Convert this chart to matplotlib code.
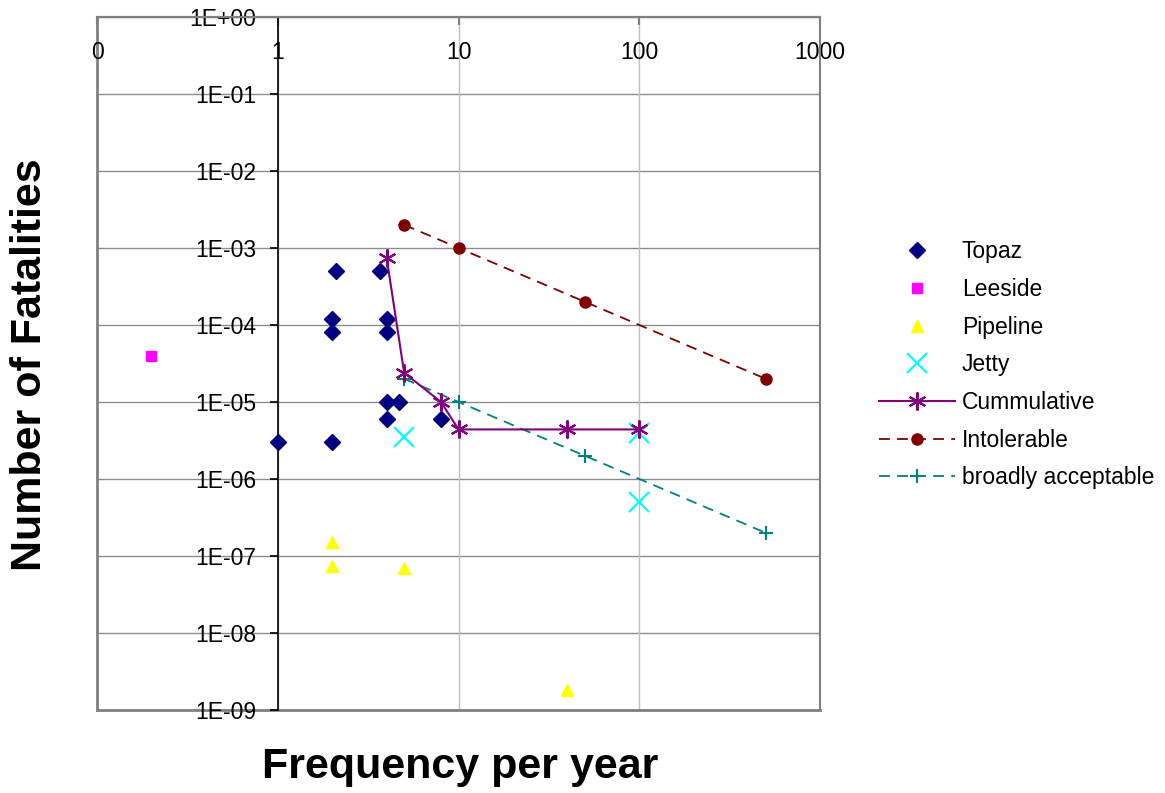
import matplotlib
matplotlib.use("Agg")
import matplotlib.pyplot as plt
from matplotlib.ticker import FixedLocator, FixedFormatter, NullLocator

plt.rcParams['font.family'] = ['Liberation Sans', 'DejaVu Sans']

# ---- data ----
topaz_x = [1, 2, 2.1, 2, 2, 3.7, 4, 4, 4, 4.7, 4, 8]
topaz_y = [3e-6, 3e-6, 5e-4, 1.2e-4, 8e-5, 5e-4, 1.2e-4, 8e-5, 1e-5, 1e-5, 6e-6, 6e-6]

leeside_x = [0.2]
leeside_y = [4e-5]

pipeline_x = [2, 2, 5, 40]
pipeline_y = [1.5e-7, 7.5e-8, 7e-8, 1.8e-9]

jetty_x = [5, 100, 100]
jetty_y = [3.5e-6, 4e-6, 5e-7]

cum_x = [4, 5, 8, 10, 40, 100]
cum_y = [7.5e-4, 2.4e-5, 1e-5, 4.4e-6, 4.4e-6, 4.4e-6]

intol_x = [5, 10, 50, 500]
intol_y = [2e-3, 1e-3, 2e-4, 2e-5]

broad_x = [5, 10, 50, 500]
broad_y = [2e-5, 1e-5, 2e-6, 2e-7]

x_ticks = [0.1, 1, 10, 100, 1000]
x_tick_labels = ["0", "1", "10", "100", "1000"]
y_ticks = [1e0, 1e-1, 1e-2, 1e-3, 1e-4, 1e-5, 1e-6, 1e-7, 1e-8, 1e-9]
y_tick_labels = ["1E+00", "1E-01", "1E-02", "1E-03", "1E-04", "1E-05",
                 "1E-06", "1E-07", "1E-08", "1E-09"]

# ---- figure ----
fig = plt.figure(figsize=(11.65, 7.93), dpi=100)
ax = fig.add_axes([0.0833, 0.1047, 0.6206, 0.8739])
ax.set_xscale('log')
ax.set_yscale('log')
ax.set_xlim(0.1, 1000)
ax.set_ylim(1e-9, 1)

# grid
for yv in y_ticks:
    ax.axhline(yv, color='#8c8c8c', lw=1.0, zorder=0)
for xv in x_ticks:
    ax.axvline(xv, color='#c0c0c0', lw=1.0, zorder=0)

# frame
for s in ['top', 'right']:
    ax.spines[s].set_color('#808080')
    ax.spines[s].set_linewidth(1.5)
ax.axvline(x_ticks[0], color='#808080', lw=2.0, clip_on=False, zorder=1)
ax.axhline(y_ticks[-1], color='#808080', lw=2.0, clip_on=False, zorder=1)

# axes crossing positions
ax.spines['left'].set_position(('data', 1))
ax.spines['left'].set_color('black')
ax.spines['left'].set_linewidth(1.2)
ax.spines['bottom'].set_position(('data', 1))
ax.spines['bottom'].set_color('#808080')
ax.spines['bottom'].set_linewidth(1.5)

ax.xaxis.set_major_locator(FixedLocator(x_ticks))
ax.xaxis.set_major_formatter(FixedFormatter(x_tick_labels))
ax.xaxis.set_minor_locator(NullLocator())
ax.yaxis.set_major_locator(FixedLocator(y_ticks))
ax.yaxis.set_major_formatter(FixedFormatter(y_tick_labels))
ax.yaxis.set_minor_locator(NullLocator())
ax.tick_params(axis='x', direction='out', length=6, color='#808080', width=1.5,
               labelsize=16.5, pad=11)
ax.tick_params(axis='y', direction='out', length=6, color='black', width=1.2,
               labelsize=16.5, pad=9.5)

# series
ax.plot(topaz_x, topaz_y, linestyle='none', marker='D', ms=8.5, color='#000080',
        label='Topaz', zorder=5, clip_on=False)
ax.plot(leeside_x, leeside_y, linestyle='none', marker='s', ms=7, color='#ff00ff',
        label='Leeside', zorder=5)
ax.plot(pipeline_x, pipeline_y, linestyle='none', marker='^', ms=9, color='#ffff00',
        label='Pipeline', zorder=5)
ax.plot(jetty_x, jetty_y, linestyle='none', marker='x', ms=14, mew=1.6, color='#00ffff',
        label='Jetty', zorder=5)
ax.plot(cum_x, cum_y, linestyle='-', lw=1.5, marker=(6, 2, 0), ms=13, mew=1.5,
        color='#800080', label='Cummulative', zorder=6)
ax.plot(intol_x, intol_y, linestyle=(0, (6, 4)), lw=1.3, marker='o', ms=8,
        color='#800000', label='Intolerable', zorder=4)
ax.plot(broad_x, broad_y, linestyle=(0, (6, 4)), lw=1.3, marker='+', ms=10, mew=1.5,
        color='#008080', label='broadly acceptable', zorder=4)

# labels
fig.text(0.026, 0.54, 'Number of Fatalities', rotation=90, fontsize=31,
         fontweight='bold', ha='center', va='center')
fig.text(0.395, 0.033, 'Frequency per year', fontsize=31, fontweight='bold',
         ha='center', va='center')

fig.legend(loc='center left', bbox_to_anchor=(0.745, 0.54), frameon=False,
           fontsize=16.5, handlelength=3.3, handletextpad=0.3, labelspacing=0.64,
           borderpad=0)

fig.savefig('out.png', dpi=100)
